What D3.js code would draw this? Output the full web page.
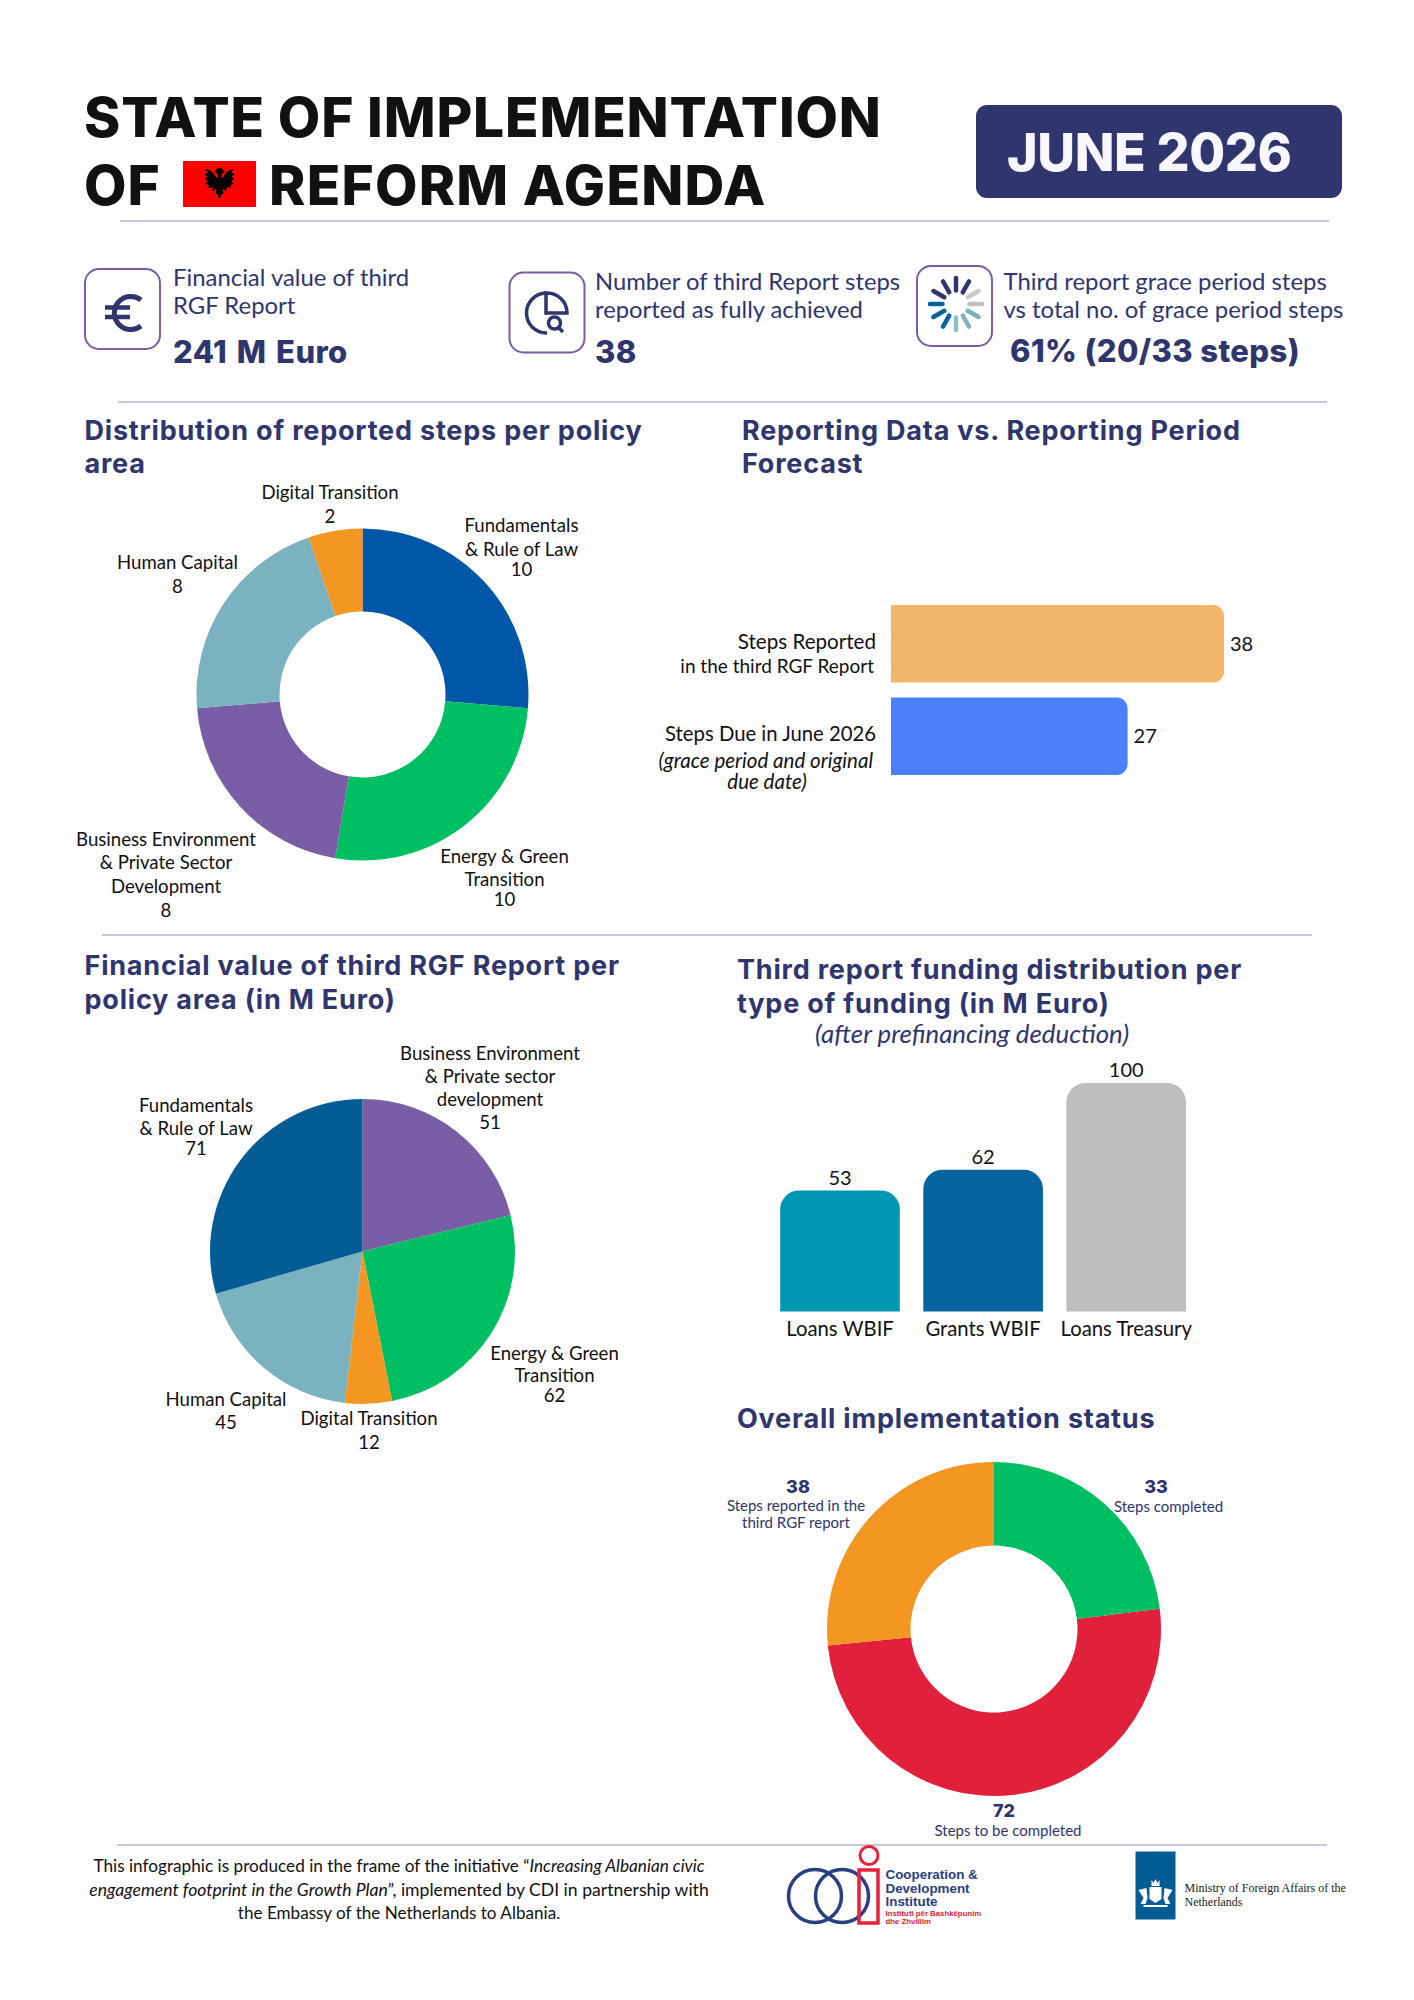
<!DOCTYPE html>
<html>
<head>
<meta charset="utf-8">
<title>State of implementation of Reform Agenda</title>
<script src="https://cdn.jsdelivr.net/npm/d3@7"></script>
<style>
html,body{margin:0;padding:0;background:#fefefe;}
svg{display:block;}
text{font-family:"Lato",sans-serif;}
</style>
</head>
<body>
<div id="chart"></div>
<script>

/* ==========================
   Data
========================== */

const stepAreas = ["Fundamentals & Rule of Law","Energy & Green Transition","Business Environment & Private Sector Development","Human Capital","Digital Transition"];
const stepValues = [10,10,8,8,2];
const stepLabels = [
["Fundamentals","& Rule of Law"],
["Energy & Green","Transition"],
["Business Environment","& Private Sector","Development"],
["Human Capital"],
["Digital Transition"]
];

const forecastNames = ["Steps Reported","Steps Due"];
const forecastValues = [38,27];

const moneyAreas = ["Business Environment","Energy & Green Transition","Digital Transition","Human Capital","Fundamentals & Rule of Law"];
const moneyValues = [51,62,12,45,71];
const moneyLabels = [
["Business Environment","& Private sector","development"],
["Energy & Green","Transition"],
["Digital Transition"],
["Human Capital"],
["Fundamentals","& Rule of Law"]
];

const fundingTypes = ["Loans WBIF","Grants WBIF","Loans Treasury"];
const fundingValues = [53,62,100];

const statusNames = ["Steps completed","Steps to be completed","Steps reported in the third RGF report"];
const statusValues = [33,72,38];

/* ==========================
   Colours and layout
========================== */

const NAVY = "#2f356d";
const INK = "#111111";
const RULE = "#cbc5e1";
const HEAD = "Inter";

const stepColors = ["#0057a8","#00bf63","#7a5ea5","#7ab3bf","#f39622"];
const forecastColors = ["#f3b76c","#4c80f8"];
const moneyColors = ["#7a5ea5","#00bf63","#f39622","#7ab3bf","#045c94"];
const fundingColors = ["#0097b2","#03649f","#bdbec0"];
const statusColors = ["#00bf63","#e1203c","#f39622"];

const stepLabelPos = [
{x:521.5,y:[532,556,576]},
{x:504.5,y:[863,886,906]},
{x:166,y:[846,869,893,916.5]},
{x:177.5,y:[569,593]},
{x:330,y:[499,523]}
];

const moneyLabelPos = [
{x:490,y:[1060,1083,1106,1129]},
{x:554.5,y:[1359.5,1382,1402]},
{x:369,y:[1425,1449]},
{x:226,y:[1406,1429]},
{x:196,y:[1112,1135,1155]}
];

const svg = d3.select("#chart")
.append("svg")
.attr("width",1414)
.attr("height",2000)
.attr("viewBox","0 0 1414 2000");

svg.append("rect")
.attr("width",1414)
.attr("height",2000)
.attr("fill","#fefefe");

function label(x,y,str,size,opts){

const o = opts || {};

return svg.append("text")
.attr("x",x)
.attr("y",y)
.attr("text-anchor",o.anchor || "start")
.attr("font-size",size)
.attr("font-weight",o.weight || 400)
.attr("font-style",o.italic ? "italic" : "normal")
.attr("fill",o.fill || INK)
.attr("letter-spacing",o.spacing || null)
.attr("word-spacing",o.wordSpacing || null)
.style("font-family",o.family || null)
.text(str);

}

function rule(x1,x2,y){

svg.append("line")
.attr("x1",x1)
.attr("x2",x2)
.attr("y1",y)
.attr("y2",y)
.attr("stroke",RULE)
.attr("stroke-width",2);

}

function sectionTitle(x,y,str){

label(x,y,str,27,{family:HEAD,weight:700,fill:NAVY,spacing:0.8});

}

/* ==========================
   Header
========================== */

label(84,137,"STATE OF IMPLEMENTATION",55,{family:HEAD,weight:800,spacing:0.85});
label(84,205,"OF",55,{family:HEAD,weight:800,spacing:1});
label(269,205,"REFORM AGENDA",55,{family:HEAD,weight:800,spacing:1.25});

// flag
svg.append("rect")
.attr("x",183)
.attr("y",161)
.attr("width",73)
.attr("height",46)
.attr("fill","#ff0000");

const eagle = svg.append("g")
.attr("transform","translate(219.5,184)")
.attr("fill","#000000");

eagle.append("path")
.attr("d","M-2,-16 L-5,-12 L-2,-10 L-2,-5 L-8,-13 L-14,-15 L-12,-11 L-15,-10 L-12,-7 L-15,-5 L-12,-3 L-14,0 L-11,1 L-11,4 L-7,3 L-7,7 L-3,5 L-4,10 L-2,10 L0,16 L2,10 L4,10 L3,5 L7,7 L7,3 L11,4 L11,1 L14,0 L12,-3 L15,-5 L12,-7 L15,-10 L12,-11 L14,-15 L8,-13 L2,-5 L2,-10 L5,-12 L2,-16 Z");

svg.append("rect")
.attr("x",976)
.attr("y",105)
.attr("width",366)
.attr("height",93)
.attr("rx",11)
.attr("fill",NAVY);

label(1007,170.5,"JUNE 2026",52,{family:HEAD,weight:800,fill:"#f8f7ff",spacing:-0.4});

rule(120,1329,221);

/* ==========================
   Key figures
========================== */

function card(x,y){

svg.append("rect")
.attr("x",x)
.attr("y",y)
.attr("width",75)
.attr("height",80)
.attr("rx",14)
.attr("fill","#ffffff")
.attr("stroke","#7a5ea5")
.attr("stroke-width",2);

}

card(85,269);
card(509.5,272.5);
card(917,266);

// euro sign
const euro = svg.append("g")
.attr("fill","none")
.attr("stroke",NAVY)
.attr("stroke-width",5);

euro.append("path")
.attr("d","M141,300 A16.5,16.5 0 1 0 141,326");

euro.append("path")
.attr("stroke-width",4.5)
.attr("d","M105,307.5 H130 M105,317 H130");

// pie with magnifier
const lens = svg.append("g")
.attr("fill","none")
.attr("stroke",NAVY)
.attr("stroke-width",3.5);

lens.append("path").attr("d","M546,293 A20,20 0 0 0 547,333");
lens.append("path").attr("d","M546,293 A20,20 0 0 1 567,313 H546 Z");
lens.append("circle").attr("cx",554.5).attr("cy",323).attr("r",6);
lens.append("path").attr("d","M559,328 L563,332");

// spinner
const spinnerColors = [NAVY,NAVY,"#c9c9c9","#bfbfbf","#7ab3bf","#7ab3bf","#8cbfca","#03649f","#03649f","#03649f",NAVY,NAVY];

const spinner = svg.append("g")
.attr("transform","translate(956,304)");

spinner.selectAll("line")
.data(spinnerColors)
.enter()
.append("line")
.attr("x1",(d,i) => 13.5*Math.sin(i*Math.PI/6))
.attr("y1",(d,i) => -13.5*Math.cos(i*Math.PI/6))
.attr("x2",(d,i) => 26*Math.sin(i*Math.PI/6))
.attr("y2",(d,i) => -26*Math.cos(i*Math.PI/6))
.attr("stroke",d => d)
.attr("stroke-width",4.5)
.attr("stroke-linecap","round");

const figure = {family:HEAD,weight:800,fill:NAVY,spacing:0.4};

label(173,286,"Financial value of third",23.9,{fill:NAVY});
label(173,314,"RGF Report",23.9,{fill:NAVY});
label(173,363,"241 M Euro",31,{family:HEAD,weight:800,fill:NAVY,spacing:0.4,wordSpacing:2.5});

label(595,289.5,"Number of third Report steps",23.8,{fill:NAVY});
label(595,317.5,"reported as fully achieved",23.8,{fill:NAVY});
label(595,363,"38",31,figure);

label(1003.5,289.5,"Third report grace period steps",23.9,{fill:NAVY});
label(1003.5,317.5,"vs total no. of grace period steps",23.9,{fill:NAVY});
label(1010,362,"61% (20/33 steps)",31,figure);

rule(118,1327,402);

/* ==========================
   Steps per policy area
========================== */

sectionTitle(84.5,439.5,"Distribution of reported steps per policy");
sectionTitle(84.5,473,"area");

function drawPie(cx,cy,inner,outer,values,colors){

const pie = d3.pie().sort(null)(values);
const arc = d3.arc().innerRadius(inner).outerRadius(outer);

svg.append("g")
.attr("transform",`translate(${cx},${cy})`)
.selectAll("path")
.data(pie)
.enter()
.append("path")
.attr("d",arc)
.attr("fill",(d,i) => colors[i]);

}

function pieLabels(values,lines,pos){

values.forEach((v,i) => {

lines[i].concat([String(v)]).forEach((str,j) => {

label(pos[i].x,pos[i].y[j],str,18.6,{anchor:"middle"});

});

});

}

drawPie(362.5,694.5,83,166,stepValues,stepColors);
pieLabels(stepValues,stepLabels,stepLabelPos);

/* ==========================
   Reported vs forecast
========================== */

sectionTitle(742,439.5,"Reporting Data vs. Reporting Period");
sectionTitle(742,473,"Forecast");

const forecastX = d3.scaleLinear()
.domain([0,38])
.range([891,1224]);

const forecastY = d3.scaleBand()
.domain(forecastNames)
.range([605,775])
.paddingInner(0.163);

function rightBar(x0,x1,y,h,r){

const p = d3.path();
p.moveTo(x0,y);
p.lineTo(x1-r,y);
p.arcTo(x1,y,x1,y+r,r);
p.lineTo(x1,y+h-r);
p.arcTo(x1,y+h,x1-r,y+h,r);
p.lineTo(x0,y+h);
p.closePath();
return p.toString();

}

svg.append("g")
.selectAll("path")
.data(forecastValues)
.enter()
.append("path")
.attr("d",(d,i) => rightBar(forecastX(0),forecastX(d),forecastY(forecastNames[i]),forecastY.bandwidth(),11))
.attr("fill",(d,i) => forecastColors[i]);

forecastValues.forEach((v,i) => {

label(forecastX(v)+6,forecastY(forecastNames[i])+forecastY.bandwidth()/2+7,v,20);

});

label(876,649,"Steps Reported",20.6,{anchor:"end"});
label(874,672.5,"in the third RGF Report",19,{anchor:"end"});
label(876,741,"Steps Due in June 2026",20.3,{anchor:"end"});
label(873,768,"(grace period and original",20.5,{anchor:"end",italic:true});
label(767,789,"due date)",20.5,{anchor:"middle",italic:true});

rule(102,1312,935);

/* ==========================
   Financial value per area
========================== */

sectionTitle(84.5,975,"Financial value of third RGF Report per");
sectionTitle(84.5,1008.5,"policy area (in M Euro)");

drawPie(362.5,1251.5,0,152.5,moneyValues,moneyColors);
pieLabels(moneyValues,moneyLabels,moneyLabelPos);

/* ==========================
   Funding per type
========================== */

sectionTitle(737,979,"Third report funding distribution per");
sectionTitle(737,1012.5,"type of funding (in M Euro)");
label(815,1043,"(after prefinancing deduction)",25.8,{italic:true,fill:NAVY});

const fundingX = d3.scaleBand()
.domain(fundingTypes)
.range([780.2,1186])
.paddingInner(0.164);

const fundingY = d3.scaleLinear()
.domain([0,100])
.range([1311.5,1083]);

function topBar(x,w,y0,y1,r){

const p = d3.path();
p.moveTo(x,y0);
p.lineTo(x,y1+r);
p.arcTo(x,y1,x+r,y1,r);
p.lineTo(x+w-r,y1);
p.arcTo(x+w,y1,x+w,y1+r,r);
p.lineTo(x+w,y0);
p.closePath();
return p.toString();

}

svg.append("g")
.selectAll("path")
.data(fundingValues)
.enter()
.append("path")
.attr("d",(d,i) => topBar(fundingX(fundingTypes[i]),fundingX.bandwidth(),fundingY(0),fundingY(d),19))
.attr("fill",(d,i) => fundingColors[i]);

fundingValues.forEach((v,i) => {

label(fundingX(fundingTypes[i])+fundingX.bandwidth()/2,fundingY(v)-5.8,v,20,{anchor:"middle"});

});

const fundingAxis = svg.append("g")
.attr("transform",`translate(0,${fundingY(0)})`)
.call(d3.axisBottom(fundingX).tickSize(0).tickPadding(10));

fundingAxis.select(".domain").remove();

fundingAxis.selectAll("text")
.style("font-family","Lato")
.attr("font-size",20.3)
.attr("fill",INK);

/* ==========================
   Overall status
========================== */

sectionTitle(737,1428,"Overall implementation status");

drawPie(994,1629,83.5,167,statusValues,statusColors);

const statusNumber = {family:HEAD,weight:800,fill:NAVY,anchor:"middle"};

label(798,1492.5,statusValues[2],18,statusNumber);
label(796,1510.5,"Steps reported in the",15,{fill:NAVY,anchor:"middle"});
label(796,1527.5,"third RGF report",15,{fill:NAVY,anchor:"middle"});

label(1156,1492.5,statusValues[0],18,statusNumber);
label(1168.5,1511.5,statusNames[0],15,{fill:NAVY,anchor:"middle"});

label(1004,1816.5,statusValues[1],18,statusNumber);
label(1008,1836,statusNames[1],15,{fill:NAVY,anchor:"middle"});

rule(117,1327,1845);

/* ==========================
   Footer
========================== */

const note1 = label(399,1872,"This infographic is produced in the frame of the initiative “",17.2,{anchor:"middle"});
note1.append("tspan").attr("font-style","italic").text("Increasing Albanian civic");

const note2 = label(399,1895.5,"",17.6,{anchor:"middle"});
note2.append("tspan").attr("font-style","italic").text("engagement footprint in the Growth Plan");
note2.append("tspan").text("”, implemented by CDI in partnership with");

label(399,1919,"the Embassy of the Netherlands to Albania.",17.1,{anchor:"middle"});

// CDI logo
const logo = svg.append("g")
.attr("fill","none");

logo.append("circle").attr("cx",815).attr("cy",1896).attr("r",26.5).attr("stroke","#2a3f7f").attr("stroke-width",3.5);
logo.append("circle").attr("cx",842).attr("cy",1896).attr("r",26.5).attr("stroke","#2a3f7f").attr("stroke-width",3.5);
logo.append("circle").attr("cx",869).attr("cy",1855.5).attr("r",9).attr("stroke","#e8203a").attr("stroke-width",3);
logo.append("rect").attr("x",859).attr("y",1870).attr("width",19).attr("height",53).attr("stroke","#e8203a").attr("stroke-width",3.5);

const arial = "Liberation Sans";

label(885.5,1879,"Cooperation &",13.4,{family:arial,weight:700,fill:"#2a3f7f"});
label(885.5,1892.5,"Development",13.4,{family:arial,weight:700,fill:"#2a3f7f"});
label(885.5,1906,"Institute",13.4,{family:arial,weight:700,fill:"#2a3f7f"});
label(885.5,1915.5,"Instituti për Bashkëpunim",7.8,{family:arial,weight:700,fill:"#e8203a"});
label(885.5,1924,"dhe Zhvillim",7.8,{family:arial,weight:700,fill:"#e8203a"});

// ministry logo
svg.append("rect")
.attr("x",1135.5)
.attr("y",1851.5)
.attr("width",40)
.attr("height",68)
.attr("fill","#045c94");

const crest = svg.append("g")
.attr("transform","translate(1155.5,1894)")
.attr("fill","#ffffff");

crest.append("path")
.attr("d","M-4,-14 L-2,-11 L0,-15 L2,-11 L4,-14 L4,-8 L-4,-8 Z");
crest.append("path")
.attr("d","M-6,-7 H6 V5 L0,9 L-6,5 Z");
crest.append("path")
.attr("d","M-17,-4 L-9,-6 L-8,4 L-10,10 L-15,10 L-12,4 Z");
crest.append("path")
.attr("d","M17,-4 L9,-6 L8,4 L10,10 L15,10 L12,4 Z");
crest.append("path")
.attr("d","M-12,11 H12 V13 H-12 Z");

label(1184.5,1891.5,"Ministry of Foreign Affairs of the",12,{family:"Liberation Serif",fill:"#222222"});
label(1184.5,1905.5,"Netherlands",12,{family:"Liberation Serif",fill:"#222222"});

</script>
</body>
</html>
